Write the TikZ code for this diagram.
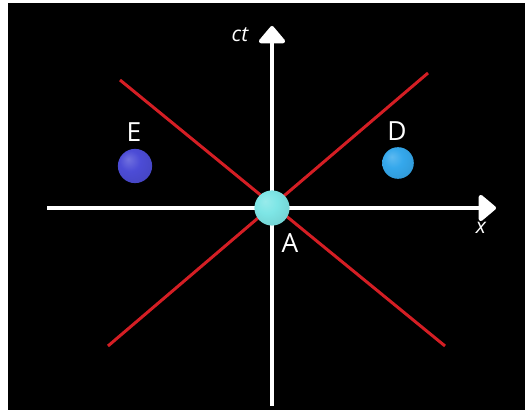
\documentclass[tikz,border=0pt]{standalone}
\usepackage{fontspec}
\setmainfont{Open Sans}
\usetikzlibrary{arrows.meta, positioning}

\definecolor{lightred}{HTML}{D41E24}
\definecolor{ballA}{HTML}{7EE6E6}
\definecolor{ballD}{HTML}{35A8EC}
\definecolor{ballE}{HTML}{4C4CD6}
\colorlet{ballcol}{ballA}

\pgfdeclareradialshading[ballcol]{softball}{\pgfpoint{-10bp}{10bp}}{%
  color(0bp)=(ballcol!80!white);
  color(15bp)=(ballcol);
  color(45bp)=(ballcol!85!black);
  color(62bp)=(ballcol!70!black)}

\begin{document}
\begin{tikzpicture}[
    x=0.02cm, y=-0.02cm,
    axis/.style={
      draw=white, line width=2.3pt,
      -{Triangle[width=17pt, length=10.5pt, round]}},
    lightline/.style={draw=lightred, line width=1.7pt},
    event/.style={
      circle, inner sep=0pt, draw=none,
      /utils/exec={\colorlet{ballcol}{#1}}, shading=softball},
    lbl/.style={text=white, font=\fontsize{15}{17}\selectfont},
    axlbl/.style={text=white, font=\itshape\fontsize{12}{14}\selectfont},
]

% ---- background ----
\fill[white] (0,0) rectangle (525,411);
\fill[black] (8,3) rectangle (525,410);
\useasboundingbox (0,0) rectangle (525,411);

% ---- axes ----
\coordinate (xl) at (47,208);
\coordinate (xr) at (496,208);
\coordinate (tb) at (272,406);
\coordinate (tt) at (272,26);

% ---- light cone ----
\coordinate (c1) at (120,80);
\coordinate (c2) at (445,346);
\coordinate (c3) at (428,73);
\coordinate (c4) at (108,346);
\draw[lightline] (c1) -- (c2);
\draw[lightline] (c3) -- (c4);

\draw[axis] (xl) -- (xr);
\draw[axis] (tb) -- (tt);

\node[axlbl] (ctlbl) at (240,35) {ct};
\node[axlbl] (xlbl)  at (481,228) {x};

% ---- events ----
\node[event=ballA, minimum size=20pt] (A) at (272,208) {};
\node[event=ballE, minimum size=19.5pt] (E) at (135,166) {};
\node[event=ballD, minimum size=18pt] (D) at (398,163) {};

\node[lbl] (Albl) at (290,243) {A};
\node[lbl] (Elbl) at (134,132) {E};
\node[lbl] (Dlbl) at (397,131) {D};

\end{tikzpicture}
\end{document}
